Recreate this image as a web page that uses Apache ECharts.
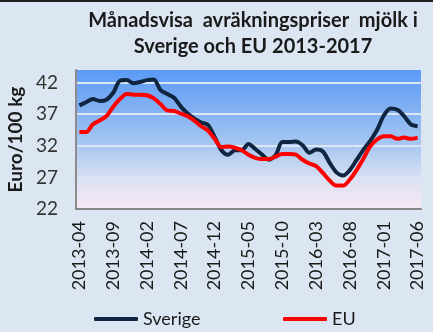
<!DOCTYPE html>
<html>
<head>
<meta charset="utf-8">
<script src="https://cdn.jsdelivr.net/npm/echarts@6/dist/echarts.min.js"></script>
<style>
  html, body { margin: 0; padding: 0; background: #dce6f2; }
  #chart { width: 433px; height: 332px; }
</style>
</head>
<body>
<div id="chart"></div>
<script>
// Monthly milk prices, Euro/100 kg, April 2013 – June 2017
const months = [];
for (let y = 2013; y <= 2017; y++) {
  for (let m = 1; m <= 12; m++) {
    if ((y === 2013 && m < 4) || (y === 2017 && m > 6)) continue;
    months.push(y + '-' + (m < 10 ? '0' + m : m));
  }
}

const sverige = [38.4, 38.9, 39.4, 39.1, 39.3, 40.4, 42.3, 42.4, 41.9, 42.1, 42.4, 42.5,
  40.8, 40.2, 39.6, 38.2, 37.1, 36.3, 35.7, 35.3, 33.4, 31.3, 30.6, 31.3, 31.3, 32.3,
  31.5, 30.6, 29.8, 30.5, 32.6, 32.6, 32.7, 32.1, 30.9, 31.4, 31.1, 29.3, 27.8, 27.3,
  28.2, 29.8, 31.4, 32.8, 34.5, 36.8, 37.9, 37.7, 36.7, 35.4, 35.1];

const eu = [34.2, 34.2, 35.4, 36.0, 36.7, 38.2, 39.4, 40.2, 40.1, 40.1, 40.0, 39.5,
  38.6, 37.6, 37.5, 37.1, 36.7, 36.0, 35.1, 34.4, 33.1, 31.8, 31.9, 31.7, 31.3, 30.6,
  30.1, 29.9, 29.9, 30.3, 30.7, 30.7, 30.6, 29.8, 29.2, 28.8, 27.7, 26.5, 25.7, 25.7,
  26.7, 28.2, 30.0, 31.9, 33.0, 33.5, 33.5, 33.1, 33.3, 33.1, 33.3];

const yMin = 22, yMax = 44, yStep = 5;

const FONT = 'Lato, "Open Sans", sans-serif';
const chart = echarts.init(document.getElementById('chart'), null, { renderer: 'canvas' });

chart.setOption({
  backgroundColor: '#dce6f2',
  animation: false,
  textStyle: { fontFamily: FONT },
  title: {
    text: 'Månadsvisa  avräkningspriser  mjölk i\nSverige och EU 2013-2017',
    left: 248,
    top: 3,
    textAlign: 'center',
    textStyle: { fontSize: 20, fontWeight: 'bold', color: '#1a1a1a', lineHeight: 26, fontFamily: FONT }
  },
  graphic: [
    { type: 'rect', shape: { x: 0, y: 0, width: 433, height: 2 }, style: { fill: '#202020' } }
  ],
  legend: [
    {
      data: ['Sverige'],
      left: 89, top: 305,
      icon: 'roundRect', itemWidth: 44, itemHeight: 4, itemGap: 4,
      textStyle: { fontSize: 18, color: '#1a1a1a', fontFamily: FONT }
    },
    {
      data: ['EU'],
      left: 278, top: 305,
      icon: 'roundRect', itemWidth: 44, itemHeight: 4, itemGap: 4,
      textStyle: { fontSize: 18, color: '#1a1a1a', fontFamily: FONT }
    }
  ],
  grid: {
    left: 76, right: 12, top: 70, bottom: 123,
    containLabel: false,
    outerBoundsMode: 'none',
    show: true,
    borderWidth: 0,
    backgroundColor: new echarts.graphic.LinearGradient(0, 0, 0, 1, [
      { offset: 0, color: '#5a9af6' },
      { offset: 0.55, color: '#a8c8f0' },
      { offset: 0.8, color: '#dde2f3' },
      { offset: 1, color: '#f8e8f5' }
    ])
  },
  xAxis: {
    type: 'category',
    data: months,
    boundaryGap: true,
    axisLine: { lineStyle: { color: '#868686', width: 2 } },
    axisTick: { show: false },
    axisLabel: {
      interval: 4,
      rotate: 90,
      margin: 12,
      fontSize: 18,
      color: '#1a1a1a',
      fontFamily: FONT
    },
    splitLine: { show: false }
  },
  yAxis: {
    type: 'value',
    min: yMin, max: yMax, interval: yStep,
    name: 'Euro/100 kg',
    nameLocation: 'middle',
    nameGap: 50,
    nameRotate: 90,
    nameTextStyle: { fontSize: 19, fontWeight: 'bold', color: '#1a1a1a', fontFamily: FONT },
    axisLine: { show: true, lineStyle: { color: '#8c8c8c', width: 2 } },
    axisTick: { show: false },
    axisLabel: {
      margin: 18, fontSize: 19, color: '#333333', fontFamily: FONT,
      showMaxLabel: false
    },
    splitLine: { show: true, showMinLine: false, showMaxLine: false, lineStyle: { color: '#dbe5f4', width: 2 } }
  },
  series: [
    {
      name: 'Sverige', type: 'line', data: sverige,
      symbol: 'none', smooth: 0.3,
      lineStyle: { color: '#10253f', width: 4 },
      itemStyle: { color: '#10253f' }
    },
    {
      name: 'EU', type: 'line', data: eu,
      symbol: 'none', smooth: 0.3,
      lineStyle: { color: '#ff0000', width: 4 },
      itemStyle: { color: '#ff0000' }
    }
  ]
});
</script>
</body>
</html>
